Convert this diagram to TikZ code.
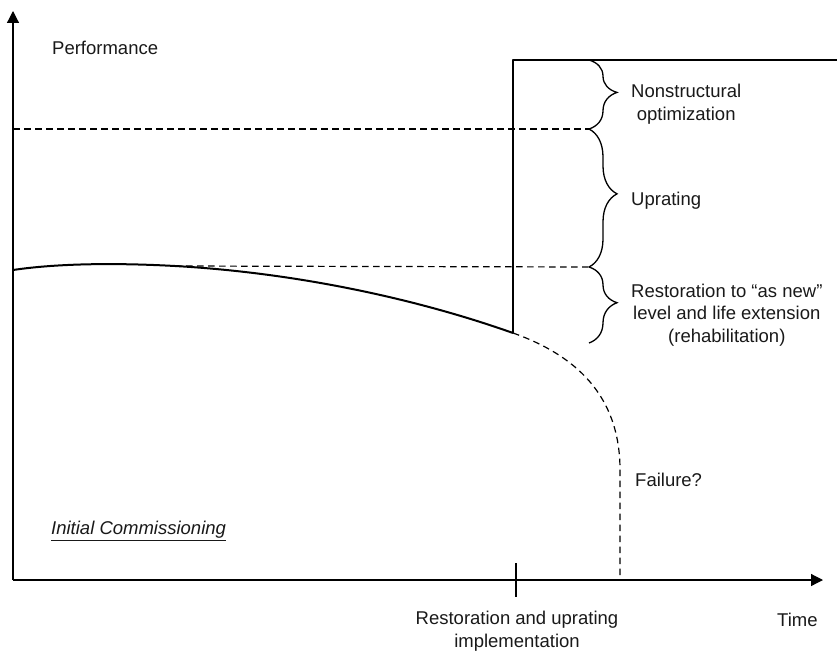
\documentclass[tikz,border=0pt]{standalone}
\usepackage{fontspec}
\setmainfont{Liberation Sans}
\usetikzlibrary{arrows.meta,decorations.pathreplacing}

\begin{document}
\begin{tikzpicture}[x=1pt,y=-1pt,
  axisline/.style={line width=1.2pt,draw=black,-{Triangle[length=12pt,width=12pt]}},
  thinline/.style={line width=1.2pt,draw=black},
  perfline/.style={line width=2pt,draw=black,line join=round},
  levelline/.style={line width=1.2pt,draw=black,dash pattern=on 6.5pt off 4.5pt},
  bracemark/.style={line width=1.3pt,draw=black,decorate,
    decoration={brace,amplitude=28pt,aspect=0.47}},
  lbl/.style={inner sep=0pt,text=black!90,font=\fontsize{18.5}{22.5}\selectfont}]
\useasboundingbox (0,0) rectangle (837,650);

% axes
\coordinate (O) at (13,580);
\coordinate (ytop) at (13,11);
\coordinate (xend) at (823,580);
\draw[axisline] (O) -- (ytop);
\draw[axisline] (O) -- (xend);

% tick marking the intervention
\coordinate (tkA) at (516,563);
\coordinate (tkB) at (516,597);
\draw[thinline] (tkA) -- (tkB);

% performance levels
\coordinate (topR) at (837,60);
\coordinate (stepTop) at (513,60);
\coordinate (stepLow) at (513,333);
\coordinate (nsL) at (13,129);
\coordinate (nsR) at (589,129);
\coordinate (curveStart) at (13,270);
\coordinate (newL) at (175,266);
\coordinate (newR) at (589,267);
\coordinate (braceTop) at (589,60);
\coordinate (braceEnd) at (589,343);
\coordinate (failV) at (620,470);
\coordinate (failB) at (620,580);

\draw[levelline] (nsL) -- (nsR);
\draw[levelline] (newL) -- (newR);

% degradation curve
\draw[perfline] (curveStart) .. controls (60,263) and (120,263) .. (newL)
  .. controls (300,273) and (420,300) .. (stepLow);

% upgraded performance
\draw[perfline] (stepLow) -- (stepTop) -- (topR);

% path to failure without intervention
\draw[levelline] (stepLow) .. controls (575,355) and (620,395) .. (failV) -- (failB);

% braces
\draw[bracemark] (braceTop) -- (nsR);
\draw[bracemark] (nsR) -- (newR);
\draw[bracemark] (newR) -- (braceEnd);

% labels
\node[lbl,anchor=west] (perf) at (52,48) {Performance};
\node[lbl,anchor=west,align=center] (nso) at (631,104) {Nonstructural\\optimization};
\node[lbl,anchor=west] (upr) at (631,201) {Uprating};
\node[lbl,anchor=west,align=center] (rest) at (631,315) {Restoration to “as new”\\level and life extension\\(rehabilitation)};
\node[lbl,anchor=west] (fail) at (635,480) {Failure?};
\node[lbl,anchor=west] (init) at (51,531) {\underline{\itshape Initial Commissioning}};
\node[lbl,align=center] (impl) at (517,631) {Restoration and uprating\\implementation};
\node[lbl,anchor=west] (time) at (777,620) {Time};
\end{tikzpicture}
\end{document}
